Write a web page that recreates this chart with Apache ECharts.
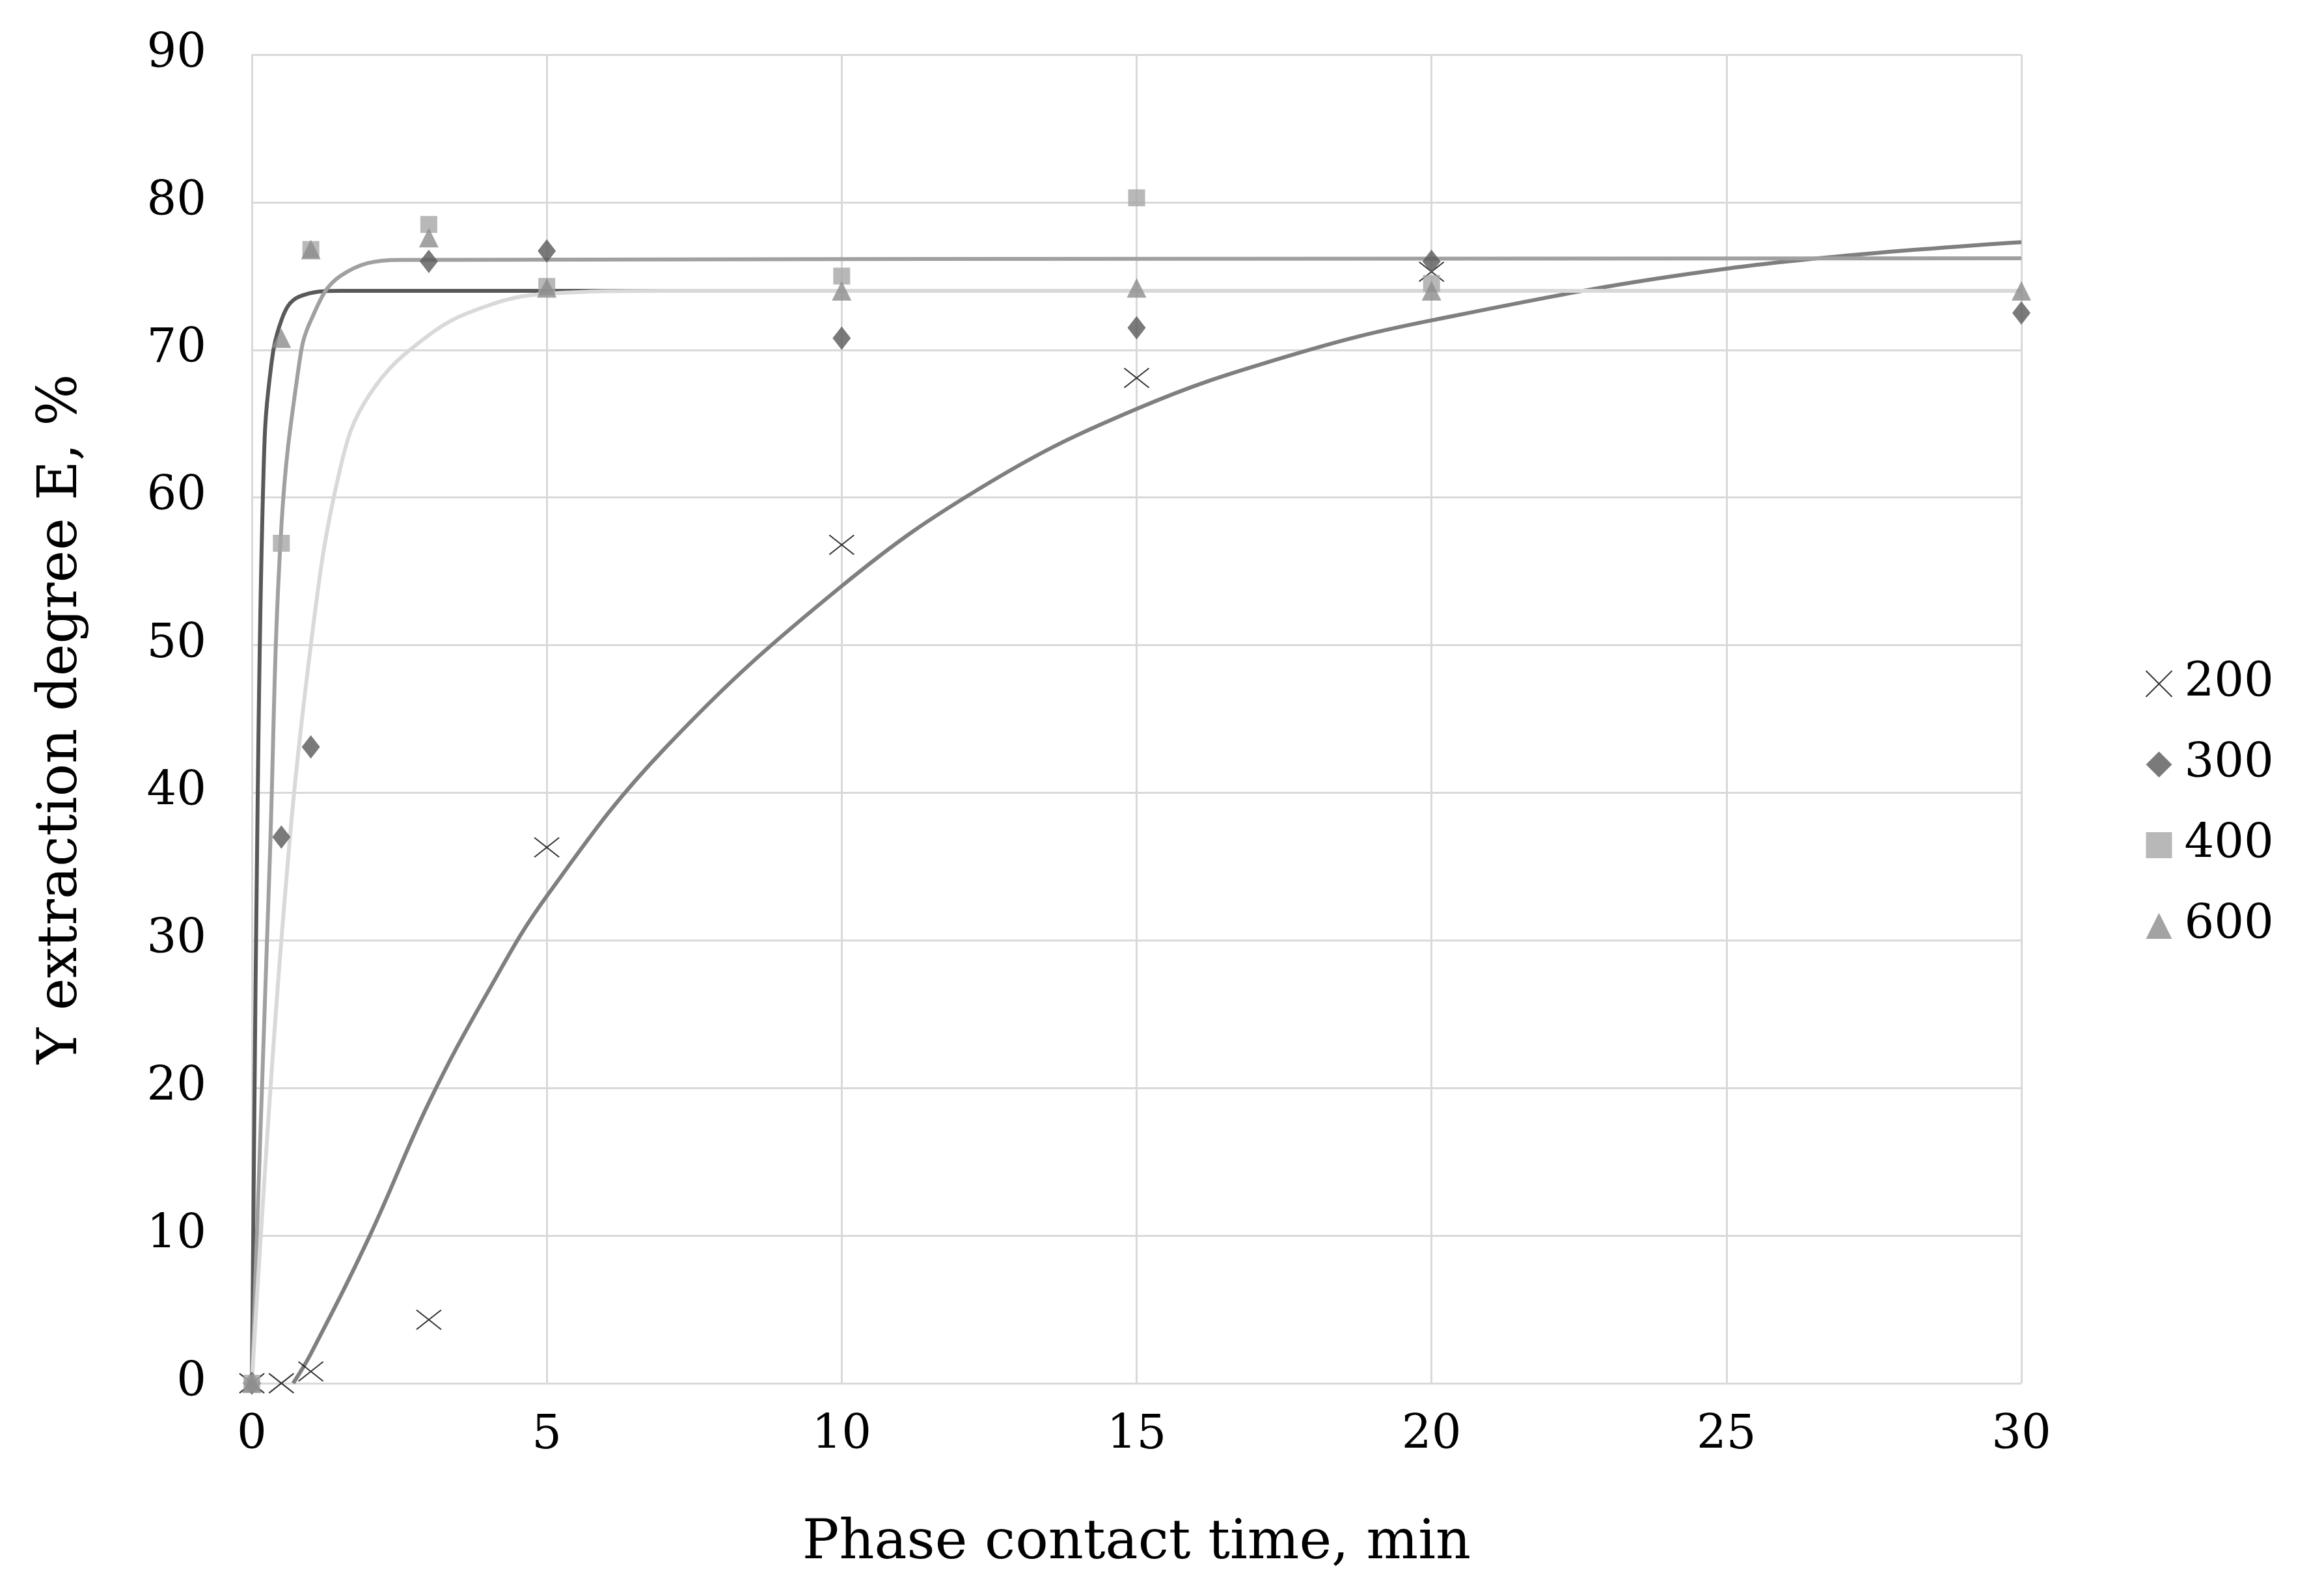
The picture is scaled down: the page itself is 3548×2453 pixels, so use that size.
<!DOCTYPE html>
<html><head><meta charset="utf-8">
<script src="https://cdn.jsdelivr.net/npm/echarts@6/dist/echarts.min.js"></script>
<style>html,body{margin:0;background:#fff}#main{width:3548px;height:2453px}</style>
</head><body><div id="main"></div>
<script>
// measured points
var s200 = [[0,0],[0.5,0],[1,0.8],[3,4.3],[5,36.3],[10,56.8],[15,68.1],[20,75.3]];
var s300 = [[0,0],[0.5,37],[1,43.1],[3,76],[5,76.7],[10,70.8],[15,71.5],[20,76],[30,72.5]];
var s400 = [[0,0],[0.5,56.9],[1,76.8],[3,78.5],[5,74.3],[10,75],[15,80.3],[20,74.5]];
var s600 = [[0,0],[0.5,70.8],[1,76.8],[3,77.6],[5,74.2],[10,74],[15,74.2],[20,74],[30,74]];
// trend lines
var t200 = [[0.7,0],[1,2],[2,10],[3,19],[4,26.5],[5,33],[7,43],[10,54],[12.5,61],[15,66],[17.5,69.5],[20,72],[25,75.5],[30,77.3]];
var tDark = [[0,0],[0.1,40],[0.2,62],[0.3,68],[0.5,72],[0.8,73.6],[1.5,74],[30,74]];
var tMid = [[0,0],[0.3,35],[0.5,58],[0.8,69],[1,72],[1.5,75],[2.5,76.1],[30,76.2]];
var tLight = [[0,0],[0.5,30],[1,50],[1.5,62],[2,67],[3,71],[4,73],[5,73.8],[7,74],[30,74]];

var font = 'DejaVu Serif';
function trend(d, c, w) {
  return {type:'line', data:d, smooth:0.4, showSymbol:false, silent:true,
    lineStyle:{color:c, width:w}, z:1};
}
var chart = echarts.init(document.getElementById('main'));
chart.setOption({
  animation:false,
  backgroundColor:'#fff',
  grid:{left:387, right:442, top:84, bottom:327},
  legend:{orient:'vertical', left:3290, top:1010, itemGap:52, itemWidth:40, itemHeight:40,
    textStyle:{fontFamily:font, fontSize:72, color:'#000', padding:[0,0,0,14]},
    data:['200','300','400','600']},
  xAxis:{type:'value', min:0, max:30, interval:5,
    name:'Phase contact time, min', nameLocation:'middle', nameGap:205,
    nameTextStyle:{fontFamily:font, fontSize:84, color:'#000'},
    axisLine:{show:false}, axisTick:{show:false},
    axisLabel:{fontFamily:font, fontSize:72, color:'#000', margin:45},
    splitLine:{lineStyle:{color:'#d9d9d9', width:3}}},
  yAxis:{type:'value', min:0, max:90, interval:10,
    name:'Y extraction degree E, %', nameLocation:'middle', nameGap:250,
    nameTextStyle:{fontFamily:font, fontSize:84, color:'#000'},
    axisLine:{show:false}, axisTick:{show:false},
    axisLabel:{fontFamily:font, fontSize:72, color:'#000', margin:70},
    splitLine:{lineStyle:{color:'#d9d9d9', width:3}}},
  series:[
    trend(t200,'#7f7f7f',6),
    trend(tDark,'#595959',6),
    trend(tMid,'#a0a0a0',6),
    trend(tLight,'#d9d9d9',6),
    {name:'200', type:'scatter', data:s200, symbol:'path://M0,0L10,10M10,0L0,10', symbolSize:[38,30],
      itemStyle:{color:'none', borderColor:'#000', borderWidth:2}, z:3},
    {name:'300', type:'scatter', data:s300, symbol:'diamond', symbolSize:[28,36],
      itemStyle:{color:'#595959'}, z:3},
    {name:'400', type:'scatter', data:s400, symbol:'rect', symbolSize:26,
      itemStyle:{color:'#a6a6a6'}, z:3},
    {name:'600', type:'scatter', data:s600, symbol:'triangle', symbolSize:30,
      itemStyle:{color:'#8c8c8c'}, z:3}
  ]
});
</script></body></html>
